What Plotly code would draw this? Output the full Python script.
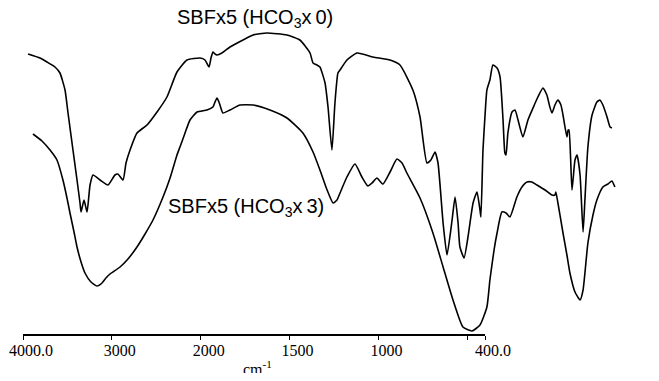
import plotly.graph_objects as go

# ---- data (wavenumber in cm-1, transmittance in arbitrary units) ----
wn_hco3_0 = [3908, 3804, 3743, 3674, 3631, 3587, 3561, 3518, 3483, 3457, 3448, 3422, 3396, 3370,
             3344, 3284, 3214, 3154, 3128, 3084, 3058, 3023, 2963, 2876, 2789, 2703, 2616, 2529,
             2416, 2373, 2338, 2321, 2304, 2286, 2269, 2226, 2156, 2043, 1978, 1918, 1831, 1775,
             1731, 1718, 1701, 1688, 1666, 1653, 1636, 1623, 1610, 1601, 1571, 1527, 1458, 1384,
             1341, 1285, 1254, 1224, 1207, 1189, 1176, 1154, 1137, 1115, 1102, 1089, 1081, 1063,
             1046, 1024, 1007, 994, 990, 981, 972, 964, 951, 938, 920, 907, 894, 886, 881, 873,
             855, 842, 829, 808, 786, 764, 743, 721, 704, 691, 682, 669, 656, 643, 634, 617, 612,
             608, 595, 582, 573, 560, 547, 539, 526, 508, 487, 474, 461, 443, 430, 422]
t_hco3_0 = [280, 276, 272, 267, 261, 244, 221, 184, 154, 131, 122, 134, 122, 149,
            159, 154, 149, 159, 160, 154, 171, 184, 201, 209, 222, 237, 262, 274,
            276, 274, 267, 276, 282, 280, 279, 281, 287, 294, 299, 301, 299, 294,
            281, 271, 269, 267, 251, 227, 184, 231, 261, 264, 274, 281, 277, 274,
            269, 244, 217, 171, 174, 182, 171, 111, 79, 114, 137, 111, 87, 76,
            97, 131, 142, 124, 117, 184, 219, 244, 254, 269, 266, 257, 214, 181, 179, 201,
            222, 224, 214, 197, 214, 226, 237, 246, 239, 227, 221, 229, 234, 229, 219, 197, 204,
            204, 144, 174, 179, 159, 102, 134, 187, 219, 232, 234, 229, 217, 207, 206]

wn_hco3_3 = [3865, 3787, 3717, 3657, 3605, 3570, 3544, 3509, 3483, 3448, 3414, 3362, 3310, 3266,
             3232, 3197, 3110, 3041, 2963, 2893, 2824, 2737, 2676, 2616, 2590, 2546, 2503, 2442,
             2356, 2304, 2286, 2269, 2252, 2243, 2217, 2156, 2069, 1978, 1905, 1831, 1762, 1718,
             1688, 1657, 1631, 1614, 1601, 1571, 1536, 1506, 1480, 1462, 1441, 1415, 1384, 1354,
             1332, 1311, 1254, 1198, 1154, 1111, 1068, 1029, 994, 964, 951, 933, 920, 899, 881,
             864, 834, 812, 790, 769, 747, 712, 682, 669, 665, 656, 634, 617, 604, 582, 560, 547,
             526, 504, 487, 461, 439, 422, 409]
t_hco3_3 = [200, 193, 184, 174, 154, 136, 121, 102, 87, 72, 61, 52, 48, 51,
            56, 60, 67, 75, 87, 100, 114, 137, 156, 179, 187, 201, 214, 222,
            224, 227, 232, 236, 232, 229, 221, 224, 229, 229, 224, 216, 201, 182,
            164, 144, 131, 134, 141, 157, 170, 157, 148, 151, 156, 150, 162, 175,
            171, 161, 136, 101, 67, 34, 7, 3, 9, 27, 54, 84, 101, 122, 121,
            117, 137, 147, 152, 152, 149, 144, 139, 139, 142, 131, 101, 79, 61, 42, 34, 44,
            91, 119, 134, 147, 150, 153, 147]

tick_values = [4000, 3000, 2000, 1500, 1000, 500, 400]
tick_labels = ["4000.0", "3000", "2000", "1500", "1000", "", "400.0"]

label_top = "SBFx5 (HCO<sub>3</sub>x\u20090)"
label_bottom = "SBFx5 (HCO<sub>3</sub>x\u20093)"


def to_u(wn):
    # FTIR-style axis: region above 2000 cm-1 compressed by a factor of two
    return (4000 - wn) / 2 if wn >= 2000 else 1000 + (2000 - wn)


# the page body adds an 8 px margin, so the figure is 16 px smaller than the window
W, H = 643, 365
OFF = 8
AXIS_Y = 334 - OFF  # row of the drawn axis line inside the figure

fig = go.Figure()
# empty trace so that the labelled wavenumber axis gets its own subplot
fig.add_trace(go.Scatter(x=[], y=[], mode="lines", xaxis="x", yaxis="y",
                         hoverinfo="skip", showlegend=False))
for wn, t in [(wn_hco3_0, t_hco3_0), (wn_hco3_3, t_hco3_3)]:
    fig.add_trace(go.Scatter(
        x=[to_u(v) for v in wn], y=t, mode="lines",
        line=dict(color="black", width=1.6, shape="spline", smoothing=0.5),
        xaxis="x2", yaxis="y", hoverinfo="skip", showlegend=False))

px0, k = 17.4 - OFF, 0.2306  # placement of spectra
fig.update_layout(
    width=W, height=H,
    margin=dict(l=0, r=0, t=0, b=0),
    plot_bgcolor="rgba(0,0,0,0)", paper_bgcolor="white",
    showlegend=False,
    xaxis=dict(
        domain=[(23 - OFF) / W, (485 - OFF) / W], range=[0, 2600],
        anchor="y", automargin=False, visible=True,
        showgrid=False, zeroline=False,
        showline=True, linecolor="black", linewidth=1.5,
        ticks="outside", ticklen=4, tickwidth=1.2, tickcolor="black",
        tickmode="array", tickvals=[to_u(v) for v in tick_values], ticktext=tick_labels,
        showticklabels=True, ticklabeloverflow="allow", ticklabelshift=8,
        tickfont=dict(family="Liberation Serif", size=16, color="black"),
    ),
    xaxis2=dict(domain=[0, 1], range=[-px0 / k, (W - px0) / k], visible=False,
                anchor="y"),
    yaxis=dict(domain=[(H - AXIS_Y) / H, 1], range=[0, AXIS_Y], visible=False,
               anchor="x"),
    annotations=[
        dict(text=label_top, x=(255 - OFF) / W, y=1 - (19 - OFF) / H, xref="paper", yref="paper",
             showarrow=False, xanchor="center", yanchor="middle",
             font=dict(family="Liberation Sans", size=20, color="black")),
        dict(text=label_bottom, x=(246 - OFF) / W, y=1 - (207 - OFF) / H, xref="paper", yref="paper",
             showarrow=False, xanchor="center", yanchor="middle",
             font=dict(family="Liberation Sans", size=20, color="black")),
        dict(text="cm<sup>-1</sup>", x=(257 - OFF) / W, y=1 - (368 - OFF) / H, xref="paper", yref="paper",
             showarrow=False, xanchor="center", yanchor="middle",
             font=dict(family="Liberation Serif", size=16, color="black")),
    ],
)
try:
    fig.update_xaxes(selector=dict(anchor="y", visible=True), ticklabelstandoff=-3)
except ValueError:
    pass

fig.write_html("out.html")
